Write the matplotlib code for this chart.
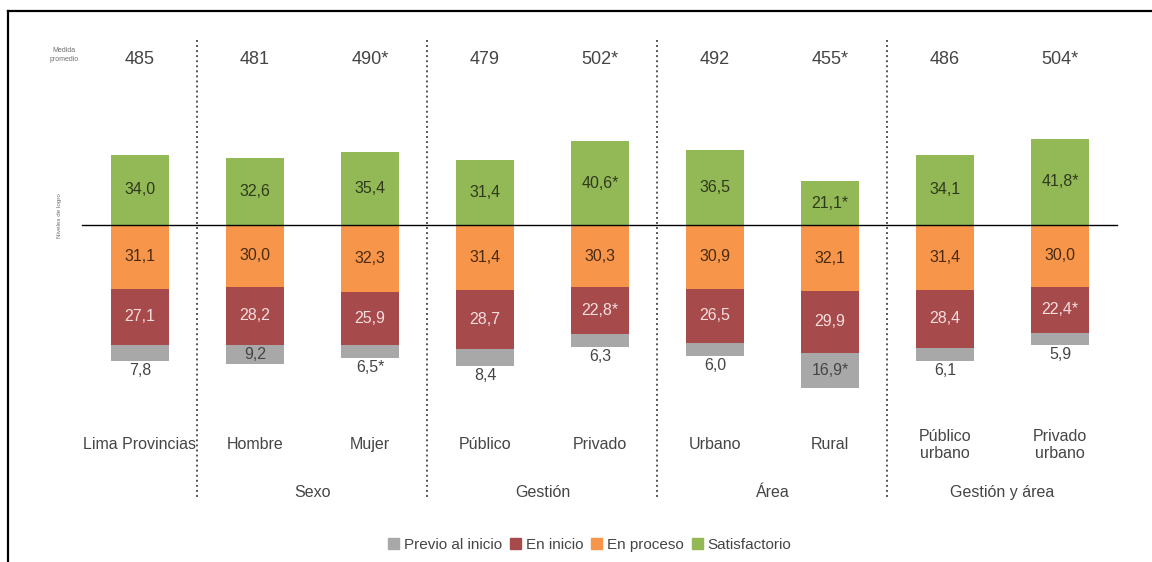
import matplotlib
matplotlib.use("Agg")
import matplotlib.pyplot as plt
from matplotlib.patches import Patch
from matplotlib.lines import Line2D

plt.rcParams['font.family'] = ['Liberation Sans', 'DejaVu Sans']

categories = ['Lima Provincias', 'Hombre', 'Mujer', 'Público', 'Privado',
              'Urbano', 'Rural', 'Público\nurbano', 'Privado\nurbano']
medida = ['485', '481', '490*', '479', '502*', '492', '455*', '486', '504*']

satisfactorio = [34.0, 32.6, 35.4, 31.4, 40.6, 36.5, 21.1, 34.1, 41.8]
en_proceso = [31.1, 30.0, 32.3, 31.4, 30.3, 30.9, 32.1, 31.4, 30.0]
en_inicio = [27.1, 28.2, 25.9, 28.7, 22.8, 26.5, 29.9, 28.4, 22.4]
previo = [7.8, 9.2, 6.5, 8.4, 6.3, 6.0, 16.9, 6.1, 5.9]

lab_sat = ['34,0', '32,6', '35,4', '31,4', '40,6*', '36,5', '21,1*', '34,1', '41,8*']
lab_pro = ['31,1', '30,0', '32,3', '31,4', '30,3', '30,9', '32,1', '31,4', '30,0']
lab_ini = ['27,1', '28,2', '25,9', '28,7', '22,8*', '26,5', '29,9', '28,4', '22,4*']
lab_pre = ['7,8', '9,2', '6,5*', '8,4', '6,3', '6,0', '16,9*', '6,1', '5,9']

groups = ['Sexo', 'Gestión', 'Área', 'Gestión y área']
group_pos = [1.5, 3.5, 5.5, 7.5]
separators = [0.5, 2.5, 4.5, 6.5]

c_sat = '#93b957'
c_pro = '#f7964a'
c_ini = '#a64a4b'
c_pre = '#a8a8a8'
txt = '#454545'

fig = plt.figure(figsize=(11.52, 5.62), dpi=100)
ax = fig.add_axes([0, 0, 1, 1])
ax.set_xlim(-1.217, 8.8)
ax.set_ylim(-163.6, 109.2)
ax.axis('off')

x = list(range(len(categories)))
w = 0.5
neg_pro = [-v for v in en_proceso]
neg_ini = [-v for v in en_inicio]
neg_pre = [-v for v in previo]
bot_ini = neg_pro
bot_pre = [a + b for a, b in zip(neg_pro, neg_ini)]

ax.bar(x, satisfactorio, w, color=c_sat)
ax.bar(x, neg_pro, w, color=c_pro)
ax.bar(x, neg_ini, w, bottom=bot_ini, color=c_ini)
ax.bar(x, neg_pre, w, bottom=bot_pre, color=c_pre)

fs = 11.5
for i in x:
    ax.text(i, satisfactorio[i] / 2, lab_sat[i], ha='center', va='center',
            fontsize=fs, color='#2f3a1c')
    ax.text(i, -en_proceso[i] / 2, lab_pro[i], ha='center', va='center',
            fontsize=fs, color='#4a2a10')
    ax.text(i, bot_ini[i] - en_inicio[i] / 2, lab_ini[i], ha='center',
            va='center', fontsize=fs, color='#f5dede')
    low = bot_pre[i] - previo[i]
    if previo[i] > 9:
        ax.text(i, bot_pre[i] - previo[i] / 2, lab_pre[i], ha='center',
                va='center', fontsize=fs, color=txt)
    else:
        ax.text(i, low - 1.0, lab_pre[i], ha='center', va='top',
                fontsize=fs, color=txt)
    ax.text(i, 80.1, medida[i], ha='center', va='center', fontsize=13,
            color=txt)
    ax.text(i, -106.8, categories[i], ha='center', va='center', fontsize=11.5,
            color=txt, linespacing=1.2)

for g, p in zip(groups, group_pos):
    ax.text(p, -130.1, g, ha='center', va='center', fontsize=11.5, color=txt)

for s in separators:
    ax.plot([s, s], [89.8, -133.5], color='#555555', lw=1.4,
            linestyle=(0, (1, 1.6)))

ax.plot([-0.504, 8.5], [0, 0], color='black', lw=1)

ax.text(-0.66, 82.5, 'Medida\npromedio', ha='center', va='center',
        fontsize=5, color='#707070', linespacing=1.4)
ax.text(-0.7, 4.5, 'Niveles de logro', ha='center', va='center',
        fontsize=4.5, color='#707070', rotation=90)

handles = [Patch(color=c_pre, label='Previo al inicio'),
           Patch(color=c_ini, label='En inicio'),
           Patch(color=c_pro, label='En proceso'),
           Patch(color=c_sat, label='Satisfactorio')]
leg = fig.legend(handles=handles, loc='center', ncol=4,
                 bbox_to_anchor=(590 / 1152, 1 - 545 / 562), frameon=False,
                 fontsize=11, handlelength=0.7, handleheight=0.7,
                 handletextpad=0.35, columnspacing=0.5)
for t in leg.get_texts():
    t.set_color(txt)

# frame (left and top edges visible)
fig.add_artist(Line2D([8 / 1152, 8 / 1152], [0, 1 - 10.5 / 562],
                      color='black', lw=1.6, transform=fig.transFigure))
fig.add_artist(Line2D([8 / 1152, 1], [1 - 10.5 / 562, 1 - 10.5 / 562],
                      color='black', lw=1.6, transform=fig.transFigure))

fig.savefig('out.png', dpi=100)
